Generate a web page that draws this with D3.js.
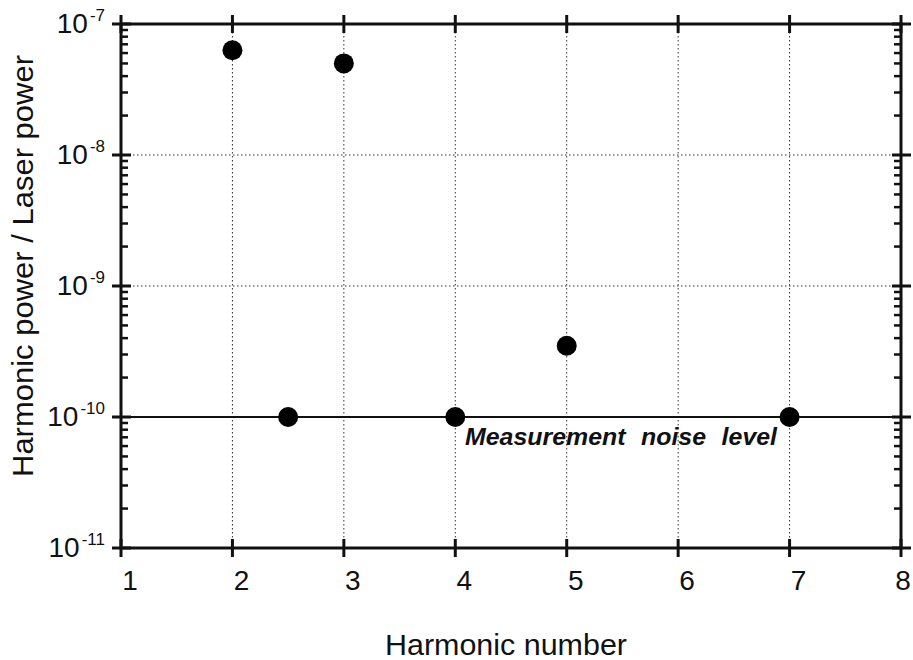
<!DOCTYPE html>
<html>
<head>
<meta charset="utf-8">
<script src="https://cdn.jsdelivr.net/npm/d3@7"></script>
<style>
  body { margin: 0; background: #fff; }
  svg text { font-family: "Liberation Sans", Arial, Helvetica, sans-serif; fill: #111; }
</style>
</head>
<body>
<svg id="chart" width="913" height="660"></svg>
<script>
// Harmonic content of the laser output, relative to the fundamental
const harmonics = [2, 2.5, 3, 4, 5, 7];
const powerRatio = [6.3e-8, 1.0e-10, 5.0e-8, 1.0e-10, 3.5e-10, 1.0e-10];
const noiseLevel = 1e-10;
const xTicks = [1, 2, 3, 4, 5, 6, 7, 8];
const yDecades = [-11, -10, -9, -8, -7];

const svg = d3.select("#chart");
const plotLeft = 121, plotRight = 901, plotTop = 24, plotBottom = 548;

const x = d3.scaleLinear().domain([1, 8]).range([plotLeft, plotRight]);
const y = d3.scaleLog().domain([1e-11, 1e-7]).range([plotBottom, plotTop]);

const g = svg.append("g");

// dotted grid
g.selectAll("line.gx").data(xTicks.slice(1, -1)).join("line")
  .attr("x1", d => x(d)).attr("x2", d => x(d))
  .attr("y1", plotTop).attr("y2", plotBottom)
  .attr("stroke", "#333").attr("stroke-width", 1).attr("stroke-dasharray", "1.5,2.5");
g.selectAll("line.gy").data(yDecades.slice(1, -1)).join("line")
  .attr("x1", plotLeft).attr("x2", plotRight)
  .attr("y1", d => y(Math.pow(10, d))).attr("y2", d => y(Math.pow(10, d)))
  .attr("stroke", "#333").attr("stroke-width", 1).attr("stroke-dasharray", "1.5,2.5");

// noise-level reference line
g.append("line")
  .attr("x1", plotLeft).attr("x2", plotRight)
  .attr("y1", y(noiseLevel)).attr("y2", y(noiseLevel))
  .attr("stroke", "#111").attr("stroke-width", 2);

// frame
g.append("rect").attr("x", plotLeft).attr("y", plotTop)
  .attr("width", plotRight - plotLeft).attr("height", plotBottom - plotTop)
  .attr("fill", "none").attr("stroke", "#111").attr("stroke-width", 3);

// major ticks on all four sides (crossing the frame)
xTicks.forEach(t => {
  [plotTop, plotBottom].forEach(yy => {
    g.append("line").attr("x1", x(t)).attr("x2", x(t))
      .attr("y1", yy - 9).attr("y2", yy + 9)
      .attr("stroke", "#111").attr("stroke-width", 3);
  });
});
yDecades.forEach(d => {
  [plotLeft, plotRight].forEach(xx => {
    g.append("line").attr("x1", xx - 9).attr("x2", xx + 10)
      .attr("y1", y(Math.pow(10, d))).attr("y2", y(Math.pow(10, d)))
      .attr("stroke", "#111").attr("stroke-width", 3);
  });
});

// minor log ticks pointing inward
const minor = [];
yDecades.slice(0, -1).forEach(d => {
  for (let m = 2; m <= 9; m++) minor.push(m * Math.pow(10, d));
});
g.selectAll("line.ml").data(minor).join("line")
  .attr("x1", plotLeft).attr("x2", plotLeft + 7)
  .attr("y1", d => y(d)).attr("y2", d => y(d))
  .attr("stroke", "#111").attr("stroke-width", 2.5);
g.selectAll("line.mr").data(minor).join("line")
  .attr("x1", plotRight - 7).attr("x2", plotRight)
  .attr("y1", d => y(d)).attr("y2", d => y(d))
  .attr("stroke", "#111").attr("stroke-width", 2.5);

// x tick labels (the last one is kept inside the page edge)
g.selectAll("text.xt").data(xTicks).join("text")
  .attr("x", d => Math.min(x(d) + 9, 903)).attr("y", plotBottom + 42)
  .attr("text-anchor", "middle").attr("font-size", 28)
  .text(d => d);

// y tick labels with superscript exponents
yDecades.forEach(d => {
  const t = g.append("text")
    .attr("x", plotLeft - 16).attr("y", y(Math.pow(10, d)) + 9)
    .attr("text-anchor", "end").attr("font-size", 28);
  t.append("tspan").text("10");
  t.append("tspan").attr("dx", 2).attr("dy", -12).attr("font-size", 17).text(String(d));
});

// axis titles
svg.append("text")
  .attr("x", 506).attr("y", 655)
  .attr("text-anchor", "middle").attr("font-size", 30)
  .attr("textLength", 242).attr("lengthAdjust", "spacingAndGlyphs")
  .text("Harmonic number");
svg.append("text")
  .attr("transform", "translate(33,266) rotate(-90)")
  .attr("text-anchor", "middle").attr("font-size", 29)
  .attr("textLength", 422).attr("lengthAdjust", "spacingAndGlyphs")
  .text("Harmonic power / Laser power");

// noise label
svg.append("text")
  .attr("x", 465).attr("y", 445)
  .attr("font-size", 23).attr("font-weight", "bold").attr("font-style", "italic")
  .attr("word-spacing", 8)
  .attr("textLength", 312).attr("lengthAdjust", "spacingAndGlyphs")
  .text("Measurement noise level");

// data points
g.selectAll("circle.pt").data(harmonics).join("circle")
  .attr("cx", d => x(d))
  .attr("cy", (d, i) => y(powerRatio[i]))
  .attr("r", 10)
  .attr("fill", "#000");
</script>
</body>
</html>
